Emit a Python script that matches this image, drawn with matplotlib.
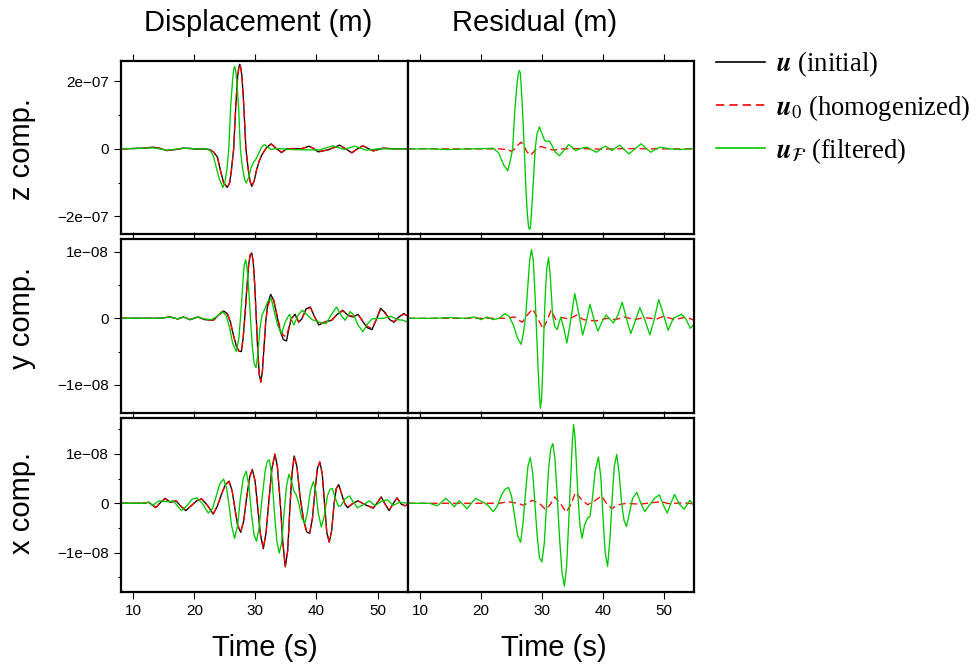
import matplotlib
matplotlib.use("Agg")
import numpy as np
import matplotlib.pyplot as plt
from matplotlib.lines import Line2D
from matplotlib.ticker import FixedLocator, FuncFormatter

plt.rcParams['font.family'] = ['Liberation Sans', 'DejaVu Sans']
plt.rcParams['mathtext.fontset'] = 'stix'

# ---- values (time in s) ----
# z component, units of 1e-7 m
z_u_t = [8.0, 10.0, 11.5, 13.3, 14.5, 15.5, 17.0, 18.2, 19.5, 20.4, 21.5, 22.5, 23.2, 23.8, 24.3, 24.8, 25.4, 25.8,
         26.1, 26.45, 26.8, 27.1, 27.28, 27.45, 27.62, 27.8, 28.1, 28.45, 28.8, 29.1, 29.4, 29.8, 30.2, 30.6, 31.0,
         31.8, 32.6, 33.5, 34.3, 35.1, 36.2, 37.5, 38.8, 39.6, 40.3, 41.9, 43.8, 44.8, 45.8, 46.7, 47.6, 48.5, 49.3,
         50.9, 53.0, 55.0]
z_u = [0.0, 0.01, 0.02, 0.05, 0.01, -0.05, -0.02, 0.02, 0.01, -0.01, 0.0, -0.02, -0.1, -0.25, -0.65, -1.0, -1.14, -1.0,
       -0.6, 0.0, 1.3, 2.15, 2.4, 2.5, 2.4, 2.15, 1.3, 0.0, -0.55, -0.93, -1.11, -0.95, -0.62, -0.38, -0.2,
       0.03, 0.15, 0.0, -0.11, 0.0, 0.01, 0.0, 0.08, 0.0, -0.09, -0.03, 0.11, 0.0, -0.12, 0.0, 0.09, 0.01, -0.06,
       0.02, 0.0, 0.0]
z_u0 = [0.0, 0.01, 0.02, 0.05, 0.01, -0.05, -0.02, 0.02, 0.01, -0.01, 0.0, -0.02, -0.1, -0.26, -0.66, -1.01, -1.15, -1.0,
        -0.6, 0.0, 1.3, 2.14, 2.39, 2.49, 2.39, 2.14, 1.3, 0.0, -0.56, -0.94, -1.12, -0.95, -0.62, -0.37, -0.19,
        0.03, 0.14, 0.0, -0.1, 0.0, 0.01, 0.0, 0.08, 0.0, -0.08, -0.03, 0.1, 0.0, -0.11, 0.0, 0.09, 0.01, -0.06,
        0.02, 0.0, 0.0]
z_uf_t = [8.0, 10.0, 13.3, 15.5, 18.2, 20.4, 22.0, 22.6, 23.1, 23.6, 24.1, 24.7, 25.0, 25.35, 25.65, 25.95, 26.3, 26.45,
          26.6, 26.75, 26.9, 27.25, 27.55, 27.85, 28.2, 28.5, 28.9, 29.3, 29.7, 30.1, 30.5, 31.0, 31.5, 32.0, 32.6,
          33.3, 34.5, 36.0, 38.4, 40.5, 42.7, 44.5, 46.3, 48.2, 50.0, 52.5, 55.0]
z_uf = [0.0, 0.01, 0.03, -0.04, 0.02, 0.0, 0.0, -0.05, -0.2, -0.55, -0.9, -1.14, -1.0, -0.6, 0.0, 1.25, 2.1, 2.35,
        2.44, 2.35, 2.1, 1.25, 0.0, -0.5, -0.88, -1.01, -0.85, -0.55, -0.4, -0.3, -0.15, 0.05, 0.13, 0.05, -0.02,
        0.01, 0.0, -0.02, -0.03, -0.03, 0.09, -0.02, 0.08, -0.04, 0.0, 0.0, 0.0]
zr_u0_t = [8.0, 20.0, 23.0, 24.2, 25.0, 25.6, 26.1, 26.6, 27.0, 27.5, 28.1, 28.6, 29.2, 29.9, 30.6, 31.9, 33.5, 36.0,
           40.0, 44.0, 48.0, 52.0, 55.0]
zr_u0 = [0.0, 0.0, 0.0, -0.02, -0.07, 0.0, 0.12, 0.2, 0.1, -0.08, -0.19, -0.1, 0.02, 0.07, 0.03, -0.04, 0.0, 0.01,
         -0.01, 0.01, 0.0, 0.0, 0.0]
zr_uf_t = [8.0, 12.0, 14.5, 18.0, 21.0, 22.0, 22.9, 23.7, 24.4, 24.8, 25.2, 25.55, 25.95, 26.15, 26.3, 26.45, 26.55,
           26.8, 27.1, 27.35, 27.6, 27.8, 27.9, 28.0, 28.1, 28.25, 28.55, 28.9, 29.2, 29.6, 30.0, 30.45, 30.8, 31.2,
           31.6, 32.2, 32.9, 33.6, 34.4, 35.0, 35.5, 36.5, 37.4, 38.2, 39.0, 39.7, 40.4, 41.0, 41.5, 42.1, 42.8, 43.6,
           44.3, 45.3, 46.3, 47.1, 47.9, 48.6, 49.4, 51.0, 52.6, 55.0]
zr_uf = [0.0, 0.0, -0.02, 0.0, 0.01, 0.02, -0.12, -0.47, -0.65, -0.35, 0.0, 1.15, 2.0, 2.25, 2.32, 2.25, 2.0,
         1.2, 0.0, -1.1, -1.9, -2.3, -2.36, -2.38, -2.33, -2.0, -1.1, 0.0, 0.45, 0.65, 0.45, 0.25, 0.22, 0.23,
         0.12, -0.1, -0.2, -0.05, 0.13, 0.04, -0.05, 0.02, 0.05, -0.03, -0.1, 0.0, 0.08, 0.02, -0.05, 0.03, 0.11,
         -0.03, -0.15, 0.0, 0.15, 0.02, -0.1, -0.02, 0.05, 0.0, -0.02, 0.01]

# y component, units of 1e-8 m
y_u_t = [8.0, 12.0, 14.4, 16.0, 17.3, 18.2, 19.3, 20.6, 21.7, 23.1, 24.0, 24.8, 25.4, 25.9, 26.4, 26.9, 27.3, 27.7,
         28.0, 28.3, 28.6, 28.9, 29.15, 29.4, 29.65, 29.9, 30.15, 30.4, 30.65, 30.9, 31.15, 31.4, 31.7, 32.0, 32.5,
         33.0, 33.5, 34.1, 34.6, 35.1, 35.5, 35.9, 36.5, 37.1, 37.6, 38.3, 39.0, 39.6, 40.4, 41.5, 42.5, 43.3, 44.3,
         45.2, 46.0, 46.8, 47.6, 48.3, 49.1, 49.8, 50.5, 51.3, 52.0, 52.7, 53.5, 54.3, 55.0]
y_u = [0.0, 0.0, 0.0, 0.02, -0.01, 0.02, -0.02, 0.02, -0.02, -0.03, 0.05, 0.11, 0.07, -0.05, -0.25, -0.42, -0.49, -0.5,
       -0.3, 0.05, 0.45, 0.8, 0.95, 0.98, 0.85, 0.5, 0.0, -0.5, -0.85, -0.95, -0.8, -0.45, -0.05, 0.2, 0.36,
       0.27, 0.05, -0.2, -0.32, -0.34, -0.15, 0.0, 0.06, -0.06, -0.01, 0.14, 0.17, 0.04, -0.1, -0.05, -0.03, 0.05, 0.12,
       0.04, 0.02, 0.06, -0.05, -0.14, -0.17, -0.02, 0.15, 0.08, -0.02, -0.06, 0.02, 0.07, 0.03]
y_u0 = [0.0, 0.0, 0.0, 0.02, -0.01, 0.02, -0.02, 0.02, -0.02, -0.03, 0.05, 0.11, 0.07, -0.05, -0.25, -0.42, -0.49, -0.5,
        -0.3, 0.05, 0.45, 0.8, 0.95, 0.98, 0.85, 0.5, 0.0, -0.5, -0.85, -0.96, -0.8, -0.45, -0.05, 0.17, 0.3,
        0.28, 0.07, -0.17, -0.26, -0.27, -0.13, 0.0, 0.05, -0.05, -0.01, 0.13, 0.16, 0.04, -0.09, -0.05, -0.03, 0.05, 0.11,
        0.05, 0.03, 0.06, -0.04, -0.12, -0.15, -0.02, 0.13, 0.07, -0.02, -0.05, 0.02, 0.06, 0.04]
y_uf_t = [8.0, 12.0, 14.4, 16.0, 17.3, 18.2, 19.3, 20.6, 21.7, 22.8, 23.6, 24.5, 25.2, 25.8, 26.3, 26.9, 27.3, 27.6,
          27.9, 28.15, 28.4, 28.65, 28.9, 29.2, 29.5, 29.8, 30.1, 30.4, 30.75, 31.1, 31.6, 32.0, 32.6, 33.1, 33.7,
          34.3, 34.9, 35.6, 36.3, 37.0, 37.7, 38.5, 39.3, 40.5, 41.6, 42.4, 43.3, 44.0, 44.7, 45.5, 46.1, 46.8, 47.6,
          48.4, 49.1, 50.0, 51.0, 52.2, 53.2, 54.3, 55.0]
y_uf = [0.0, 0.0, 0.0, 0.02, -0.01, 0.02, -0.02, 0.02, -0.01, -0.02, 0.02, 0.1, 0.05, -0.15, -0.38, -0.5, -0.3, 0.05,
        0.45, 0.78, 0.88, 0.75, 0.45, 0.0, -0.42, -0.68, -0.74, -0.55, -0.15, 0.05, 0.15, 0.25, 0.3, 0.1, -0.12,
        -0.23, -0.05, 0.06, -0.1, 0.05, 0.12, 0.05, -0.02, -0.06, -0.08, 0.05, 0.17, 0.05, -0.03, 0.1, 0.05, -0.1, -0.2,
        -0.08, -0.01, 0.0, 0.0, 0.03, -0.02, -0.03, -0.06]
yr_u0_t = [8.0, 20.0, 24.0, 25.5, 26.75, 27.6, 28.5, 29.3, 30.2, 30.9, 31.5, 32.3, 33.3, 34.5, 35.75, 36.8, 38.9,
           40.7, 42.0, 43.6, 45.2, 46.8, 48.9, 50.0, 51.9, 53.7, 55.0]
yr_u0 = [0.0, 0.0, 0.0, 0.02, -0.06, 0.05, 0.14, 0.0, -0.16, -0.02, 0.12, -0.02, 0.01, -0.01, 0.05, -0.02, -0.04,
         0.0, -0.02, 0.02, -0.02, 0.01, -0.01, 0.03, -0.02, 0.02, -0.03]
yr_uf_t = [8.0, 12.0, 15.0, 17.5, 19.0, 20.0, 21.0, 22.0, 23.0, 23.9, 24.6, 25.3, 26.0, 26.6, 27.0, 27.35, 27.7, 28.0,
           28.3, 28.6, 28.9, 29.1, 29.35, 29.55, 29.75, 29.95, 30.15, 30.35, 30.55, 30.8, 31.1, 31.4, 31.75, 32.1,
           32.5, 33.1, 33.6, 34.1, 34.7, 35.4, 36.0, 36.7, 37.3, 37.9, 38.5, 39.2, 39.9, 40.55, 41.75, 42.5, 43.2,
           43.9, 44.6, 45.3, 46.1, 46.9, 47.75, 48.5, 49.2, 50.0, 50.75, 51.6, 52.9, 53.6, 54.4, 55.0]
yr_uf = [0.0, 0.0, 0.01, 0.0, 0.02, -0.02, 0.02, -0.02, 0.0, 0.07, 0.03, -0.1, -0.3, -0.39, -0.2, 0.05, 0.5, 0.88,
         1.03, 0.85, 0.3, -0.15, -0.7, -1.1, -1.35, -1.2, -0.75, -0.15, 0.35, 0.75, 0.91, 0.6, 0.05, -0.12,
         -0.17, 0.02, -0.15, -0.37, -0.05, 0.37, 0.1, -0.25, -0.05, 0.21, 0.0, -0.19, -0.05, 0.05, -0.07, 0.05, 0.24,
         0.0, -0.23, -0.05, 0.16, -0.02, -0.25, 0.0, 0.28, 0.05, -0.18, 0.0, 0.06, 0.0, -0.15, -0.09]

# x component, units of 1e-8 m
x_u_t = [8.0, 11.6, 12.5, 13.7, 14.5, 15.2, 16.1, 17.0, 17.8, 18.6, 19.5, 20.4, 21.2, 22.2, 23.1, 23.8, 24.5, 25.1,
         25.7, 26.2, 26.7, 27.1, 27.6, 28.1, 28.6, 29.1, 29.5, 29.95, 30.4, 30.85, 31.3, 31.75, 32.25, 32.7, 33.2,
         33.6, 34.05, 34.5, 34.9, 35.3, 35.65, 36.0, 36.35, 36.8, 37.3, 37.9, 38.4, 38.9, 39.35, 39.8, 40.15, 40.55,
         40.95, 41.35, 41.7, 42.1, 42.5, 42.9, 43.25, 43.65, 44.1, 44.6, 45.1, 46.0, 46.8, 48.0, 49.3, 50.0, 50.6,
         51.3, 51.9, 52.6, 53.2, 53.9, 54.5, 55.0]
x_u = [0.0, 0.0, 0.02, -0.09, 0.02, 0.1, 0.02, 0.05, -0.06, -0.15,
       -0.05, 0.05, 0.09, -0.05, -0.22, -0.05, 0.2, 0.38, 0.45, 0.25,
       -0.15, -0.45, -0.59, -0.35, 0.15, 0.55, 0.69, 0.45, -0.1, -0.65,
       -0.92, -0.6, 0.1, 0.7, 1.0, 0.75, 0.05, -0.8, -1.29, -0.95,
       -0.1, 0.6, 0.96, 0.75, 0.15, -0.35, -0.58, -0.61, -0.3, 0.3,
       0.7, 0.84, 0.6, -0.05, -0.6, -0.79, -0.55, 0.0, 0.3, 0.38,
       0.2, 0.0, -0.09, 0.0, 0.05, -0.03, -0.1, 0.02, 0.13, -0.03,
       -0.15, 0.0, 0.11, -0.02, -0.05, -0.03]
x_u0 = [0.0, 0.0, 0.02, -0.08, 0.02, 0.09, 0.02, 0.05, -0.06, -0.14,
        -0.05, 0.05, 0.09, -0.05, -0.21, -0.05, 0.2, 0.37, 0.44, 0.25,
        -0.14, -0.44, -0.58, -0.35, 0.14, 0.54, 0.68, 0.45, -0.1, -0.64,
        -0.91, -0.6, 0.1, 0.69, 0.99, 0.75, 0.05, -0.79, -1.28, -0.95,
        -0.1, 0.6, 0.95, 0.75, 0.15, -0.34, -0.57, -0.6, -0.3, 0.3,
        0.7, 0.83, 0.6, -0.05, -0.6, -0.78, -0.55, 0.0, 0.3, 0.37,
        0.2, 0.0, -0.08, 0.0, 0.05, -0.03, -0.09, 0.02, 0.12, -0.03,
        -0.14, 0.0, 0.1, -0.02, -0.05, -0.03]
x_uf_t = [8.0, 11.6, 12.6, 13.2, 14.2, 15.0, 15.8, 16.6, 17.2, 17.9, 18.8, 19.6, 20.4, 21.3, 22.3, 23.0, 23.6, 24.2,
          24.8, 25.3, 25.7, 26.1, 26.6, 27.1, 27.5, 28.0, 28.5, 28.95, 29.35, 29.8, 30.2, 30.6, 31.1, 31.6, 31.95,
          32.3, 32.7, 33.1, 33.5, 33.9, 34.3, 34.7, 35.1, 35.5, 35.9, 36.3, 36.7, 37.1, 37.6, 38.1, 38.5, 39.0, 39.5,
          39.9, 40.3, 40.8, 41.3, 41.8, 42.2, 42.6, 43.1, 43.6, 44.0, 44.6, 45.4, 46.0, 46.7, 47.7, 48.7, 49.6, 50.6,
          51.6, 52.6, 53.6, 55.0]
x_uf = [0.0, 0.0, 0.02, -0.04, 0.05, 0.04, 0.03, 0.05, -0.05, -0.15,
        -0.05, 0.08, 0.11, 0.0, -0.2, -0.1, 0.15, 0.4, 0.49, 0.3,
        -0.05, -0.45, -0.71, -0.45, 0.05, 0.5, 0.65, 0.35, -0.2, -0.65,
        -0.77, -0.5, 0.1, 0.65, 0.85, 0.88, 0.55, -0.15, -0.75, -1.01,
        -0.8, -0.2, 0.35, 0.59, 0.45, 0.25, 0.17, 0.0, -0.3, -0.4,
        -0.2, 0.25, 0.44, 0.25, -0.2, -0.48, -0.25, 0.15, 0.28, 0.3,
        0.1, -0.06, -0.05, 0.08, 0.15, 0.03, -0.09, -0.03, 0.05, -0.05,
        0.04, 0.07, -0.04, 0.02, 0.0]
xr_u0_t = [8.0, 20.0, 23.0, 24.5, 26.0, 27.0, 28.4, 29.6, 30.6, 31.4, 32.1, 33.0, 34.0, 34.8, 35.5, 36.5, 37.5, 38.7,
           39.8, 40.6, 41.5, 42.5, 44.0, 46.0, 48.0, 49.6, 51.0, 53.0, 55.0]
xr_u0 = [0.0, 0.0, 0.0, 0.03, 0.0, -0.04, 0.06, 0.0, -0.13, -0.02,
         0.13, 0.0, -0.18, -0.02, 0.22, 0.08, -0.03, 0.05, 0.15, 0.0,
         -0.11, -0.03, 0.0, -0.02, 0.01, 0.03, -0.01, 0.01, -0.01]
xr_uf_t = [8.0, 11.5, 12.8, 13.5, 14.2, 14.9, 15.6, 16.4, 17.0, 17.7, 18.4, 19.1, 19.8, 20.4, 21.2, 22.0, 22.7, 23.3,
           23.9, 24.5, 25.0, 25.5, 26.0, 26.5, 26.9, 27.3, 27.7, 28.1, 28.5, 28.9, 29.25, 29.6, 30.0, 30.4, 30.75,
           31.1, 31.45, 31.8, 32.15, 32.5, 32.9, 33.3, 33.7, 34.05, 34.4, 34.8, 35.0, 35.2, 35.4, 35.55, 35.9, 36.25,
           36.6, 37.0, 37.5, 37.9, 38.3, 38.75, 39.3, 39.7, 40.05, 40.4, 40.8, 41.2, 41.55, 41.9, 42.3, 42.7, 43.1,
           43.5, 43.9, 44.3, 44.9, 45.6, 46.2, 46.9, 47.6, 48.5, 49.3, 50.0, 50.6, 51.2, 51.8, 52.6, 53.4, 54.3, 55.0]
xr_uf = [0.0, 0.0, -0.05, 0.02, 0.1, 0.02, -0.07, 0.05, -0.02, -0.11,
         0.0, 0.1, 0.05, 0.02, -0.05, -0.17, -0.05, 0.15, 0.28, 0.32,
         0.15, -0.25, -0.65, -0.79, -0.4, 0.2, 0.75, 0.93, 0.6, -0.1,
         -0.7, -1.1, -1.19, -0.8, -0.05, 0.7, 1.1, 1.21, 0.9, 0.2,
         -0.7, -1.4, -1.68, -1.3, -0.4, 0.7, 1.25, 1.6, 1.4, 1.1, 0.2, -0.45,
         -0.71, -0.45, -0.3, -0.27, 0.1, 0.65, 0.94, 0.5, -0.3, -1.0,
         -1.28, -0.7, 0.1, 0.75, 0.99, 0.6, 0.0, -0.35, -0.47, -0.25,
         0.1, 0.22, 0.02, -0.17, -0.05, 0.1, 0.17, -0.05, -0.2, 0.0,
         0.18, -0.02, -0.12, 0.06, -0.05]

row_names = ['z comp.', 'y comp.', 'x comp.']
row_scale = [1e-7, 1e-8, 1e-8]
row_ylim = [(-2.52e-7, 2.6e-7), (-1.42e-8, 1.19e-8), (-1.8e-8, 1.73e-8)]
row_major = [[-2e-7, 0, 2e-7], [-1e-8, 0, 1e-8], [-1e-8, 0, 1e-8]]
row_minor = [[-1e-7, 1e-7], [-0.5e-8, 0.5e-8], [-1.5e-8, -0.5e-8, 0.5e-8, 1.5e-8]]
xticks = [10, 20, 30, 40, 50]

disp = [((z_u_t, z_u), (z_u_t, z_u0), (z_uf_t, z_uf)),
        ((y_u_t, y_u), (y_u_t, y_u0), (y_uf_t, y_uf)),
        ((x_u_t, x_u), (x_u_t, x_u0), (x_uf_t, x_uf))]
resid = [((zr_u0_t, zr_u0), (zr_uf_t, zr_uf)),
         ((yr_u0_t, yr_u0), (yr_uf_t, yr_uf)),
         ((xr_u0_t, xr_u0), (xr_uf_t, xr_uf))]

c_u, c_u0, c_uf = 'black', '#ff0000', '#00c800'
lw = 0.95
dash = (5.5, 3.0)


def sci(v, pos):
    if v == 0:
        return '0'
    return ('%.0e' % v).replace('-', '\u2212')


fig = plt.figure(figsize=(9.79, 6.69), dpi=100)
bottoms = [0.6502, 0.3827, 0.1151]
heights = [0.2586, 0.2601, 0.2601]

for i in range(3):
    s = row_scale[i]
    axl = fig.add_axes([0.1236, bottoms[i], 0.2932, heights[i]])
    axr = fig.add_axes([0.4168, bottoms[i], 0.2921, heights[i]])

    (tu, u), (tu0, u0), (tf, uf) = disp[i]
    axl.plot(tu, np.array(u) * s, color=c_u, lw=lw, solid_joinstyle='round')
    axl.plot(tu0, np.array(u0) * s, color=c_u0, lw=lw, dashes=dash)
    axl.plot(tf, np.array(uf) * s, color=c_uf, lw=lw, solid_joinstyle='round')

    (tr0, r0), (trf, rf) = resid[i]
    axr.plot(tr0, np.array(r0) * s, color=c_u0, lw=lw, dashes=dash)
    axr.plot(trf, np.array(rf) * s, color=c_uf, lw=lw, solid_joinstyle='round')

    for ax in (axl, axr):
        ax.set_xlim(8, 55)
        ax.set_ylim(*row_ylim[i])
        ax.xaxis.set_major_locator(FixedLocator(xticks))
        ax.tick_params(axis='x', direction='out', top=True, bottom=True, length=5, width=0.8,
                       labelsize=11, pad=3.5, labelbottom=(i == 2))
        for sp in ax.spines.values():
            sp.set_linewidth(1.6)
    axl.yaxis.set_major_locator(FixedLocator(row_major[i]))
    axl.yaxis.set_minor_locator(FixedLocator(row_minor[i]))
    axl.yaxis.set_major_formatter(FuncFormatter(sci))
    axl.tick_params(axis='y', which='major', direction='out', length=5, width=0.8, labelsize=11, pad=4)
    axl.tick_params(axis='y', which='minor', direction='out', length=2.5, width=0.8)
    axr.set_yticks([])

    fig.text(0.022, bottoms[i] + heights[i] * (0 - row_ylim[i][0]) / (row_ylim[i][1] - row_ylim[i][0]),
             row_names[i], rotation=90, ha='center', va='center', fontsize=21)

fig.text(0.2635, 0.965, 'Displacement (m)', ha='center', va='center', fontsize=21)
fig.text(0.5465, 0.965, 'Residual (m)', ha='center', va='center', fontsize=21)
fig.text(0.27, 0.031, 'Time (s)', ha='center', va='center', fontsize=21)
fig.text(0.566, 0.031, 'Time (s)', ha='center', va='center', fontsize=21)

handles = [Line2D([], [], color=c_u, lw=1.2),
           Line2D([], [], color=c_u0, lw=1.2, dashes=(5, 3)),
           Line2D([], [], color=c_uf, lw=1.2)]
labels = [r'$\mathbfit{u}$ (initial)', r'$\mathbfit{u}_0$ (homogenized)', r'$\mathbfit{u}_{\mathcal{F}}$ (filtered)']
fig.legend(handles, labels, loc='upper left', bbox_to_anchor=(0.726, 0.934), frameon=False,
           prop={'family': 'Liberation Serif', 'size': 19.2}, handlelength=1.85, handletextpad=0.4,
           labelspacing=0.5, borderpad=0.2, borderaxespad=0)

fig.savefig('out.png', dpi=100)
